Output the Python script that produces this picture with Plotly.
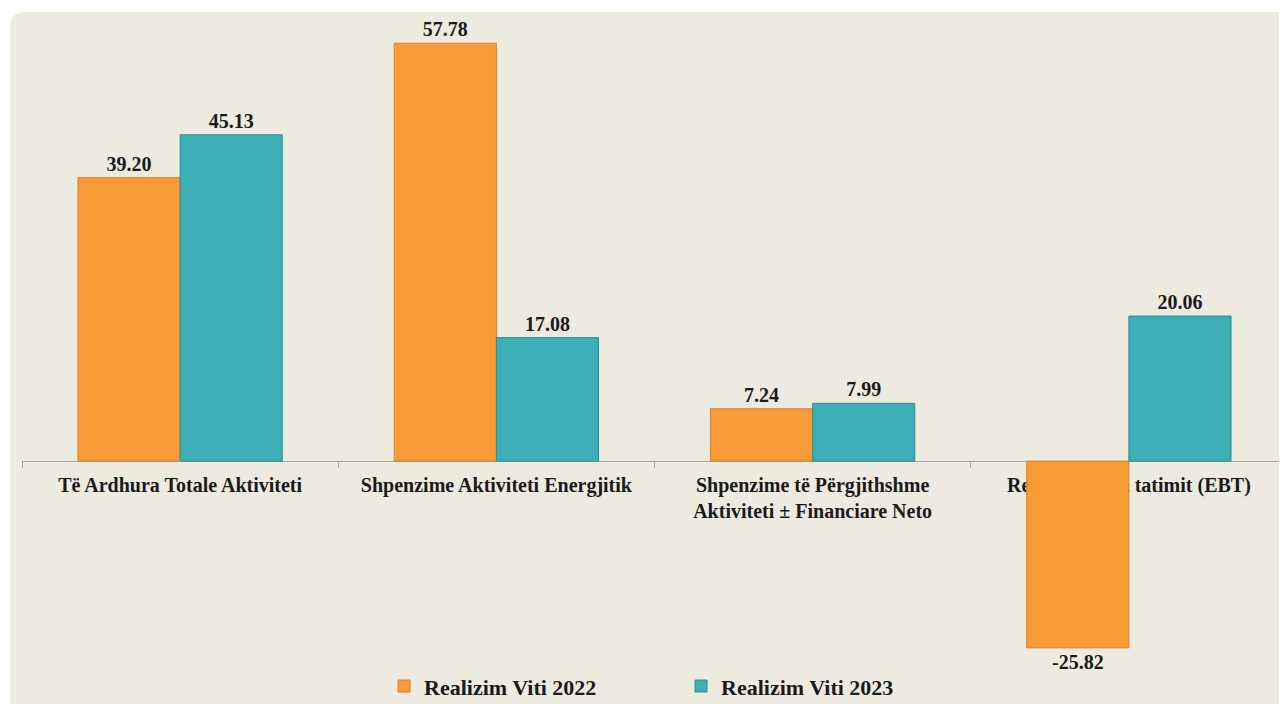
import plotly.graph_objects as go

# Chart data
categories = ['Të Ardhura Totale Aktiviteti',
              'Shpenzime Aktiviteti Energjitik',
              'Shpenzime të Përgjithshme<br>Aktiviteti ± Financiare Neto',
              'Rezultati para tatimit (EBT)']
realizim_2022 = [39.20, 57.78, 7.24, -25.82]
realizim_2023 = [45.13, 17.08, 7.99, 20.06]
series_names = ['Realizim Viti 2022', 'Realizim Viti 2023']

y_min, y_max = -27.5, 61.0
zero_pos = (0 - y_min) / (y_max - y_min)

serif = 'Liberation Serif'
label_font = dict(family=serif, size=20, color='#1a1a1a')

fig = go.Figure()
fig.add_trace(go.Bar(
    x=categories, y=realizim_2022, name=f'<b>{series_names[0]}</b>',
    marker=dict(color='#F89B36', line=dict(color='#D9802A', width=1)),
    texttemplate='<b>%{y:.2f}</b>', textposition='outside',
    textfont=label_font, cliponaxis=False,
))
fig.add_trace(go.Bar(
    x=categories, y=realizim_2023, name=f'<b>{series_names[1]}</b>',
    marker=dict(color='#3BAFB5', line=dict(color='#2B8E93', width=1)),
    texttemplate='<b>%{y:.2f}</b>', textposition='outside',
    textfont=label_font, cliponaxis=False,
))

# rounded beige panel behind the chart (paper coords relative to plot area)
x0, x1 = -0.0095, 1.01
y0, y1 = -0.1, 1.0125
rx, ry = 0.012, 0.025
panel = (f'M {x0},{y0} L {x0},{y1 - ry} Q {x0},{y1} {x0 + rx},{y1} '
         f'L {x1},{y1} L {x1},{y0} Z')

# page body adds an 8px margin, so the figure is sized to fit the window
fig.update_layout(
    width=1279, height=696,
    margin=dict(l=14, r=0, t=12, b=44, autoexpand=False),
    paper_bgcolor='white',
    plot_bgcolor='rgba(0,0,0,0)',
    barmode='group', bargap=0.354, bargroupgap=0,
    font=dict(family=serif, size=20, color='#1a1a1a'),
    shapes=[dict(type='path', path=panel, xref='paper', yref='paper',
                 fillcolor='#EDEADF', line=dict(width=0), layer='below')],
    legend=dict(orientation='h', x=0.521, xanchor='center', y=-0.041,
                yanchor='middle', entrywidth=252, entrywidthmode='pixels',
                font=dict(family=serif, size=22, color='#1a1a1a'),
                itemwidth=30, bgcolor='rgba(0,0,0,0)'),
    showlegend=True,
)

fig.update_xaxes(
    anchor='free', position=zero_pos, layer='below traces',
    showline=True, linecolor='#A6A6A6', linewidth=1,
    ticks='outside', tickson='boundaries', ticklen=6, tickcolor='#A6A6A6',
    ticklabelstandoff=6,
    tickfont=dict(family=serif, size=20, color='#1a1a1a'),
    tickprefix='<b>', ticksuffix='</b>',
    showgrid=False, zeroline=False,
)
fig.update_yaxes(range=[y_min, y_max], visible=False, showgrid=False,
                 zeroline=False)

fig.write_html('out.html')
